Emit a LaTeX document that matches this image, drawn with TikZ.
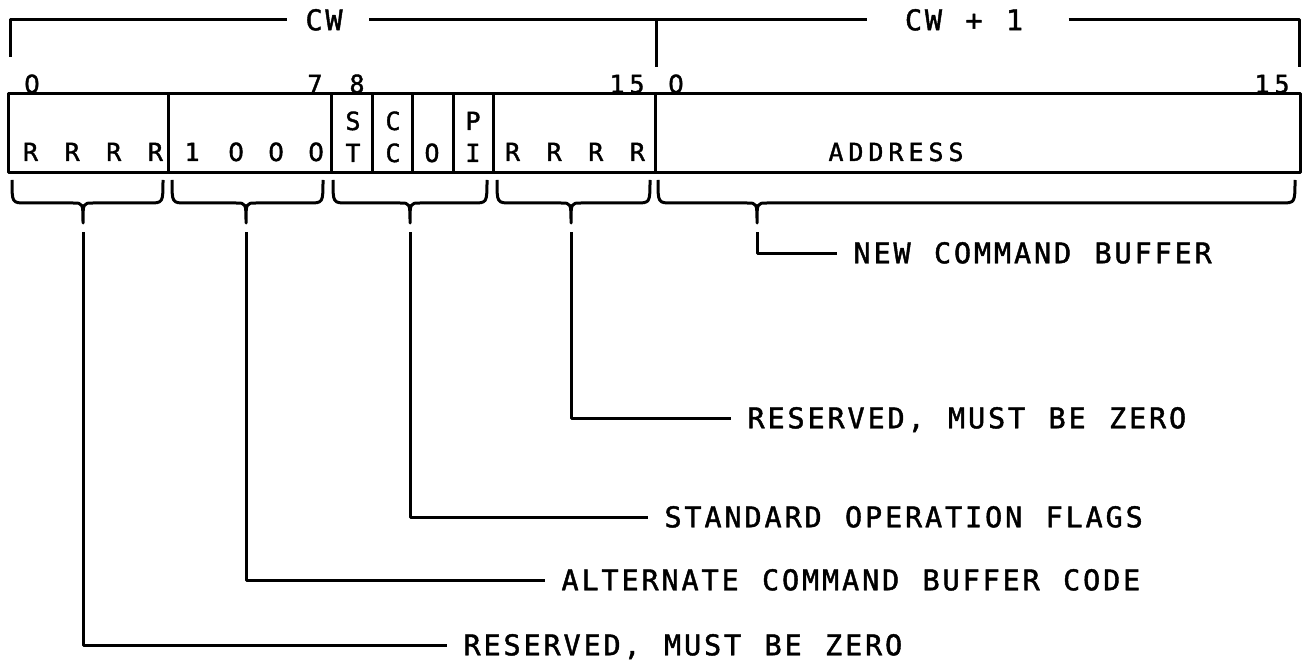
\documentclass[tikz,border=0pt]{standalone}
\usepackage{fontspec}
\newfontfamily\lblfont[LetterSpace=10,WordSpace=1.166,FakeBold=1.5]{DejaVu Sans Mono}
\newfontfamily\boxfont[LetterSpace=19.8,WordSpace=1.329,FakeBold=1.5]{DejaVu Sans Mono}
\newfontfamily\zfont[FakeBold=1.5]{DejaVu Sans}
\newcommand\zdig{\makebox[20pt]{\zfont 0}}
\newcommand\bracedown[4]{%
  \draw (#1,180) .. controls (#1,203) .. (#1+14,203) -- (#3-10,203)
        .. controls (#3,203) .. (#3,223)
        .. controls (#3,203) .. (#3+10,203) -- (#2-14,203)
        .. controls (#2,203) .. (#2,180);
  \coordinate (#4) at (#3,232);}
\begin{document}
\begin{tikzpicture}[x=1pt,y=-1pt,line width=3pt,line join=round,
  lbl/.style={font=\lblfont\fontsize{28.5}{31}\selectfont,inner xsep=0pt,inner ysep=0pt,text height=20.5pt,text depth=0pt},
  leader/.style={lbl,anchor=west,inner xsep=15pt},
  bx/.style={font=\boxfont\fontsize{25}{28}\selectfont,inner sep=0pt,text height=18pt,text depth=0pt},
  bit/.style={font=\boxfont\fontsize{25}{28}\selectfont,inner sep=0pt,anchor=base}]
\useasboundingbox (0,0) rectangle (1306,671);
% top brackets
\node[lbl] (cw) at (324,20) {CW};
\node[lbl] (cwone) at (964,20) {CW + 1};
\coordinate (tl) at (10,57);
\coordinate (tm) at (656,67);
\coordinate (tr) at (1299,67);
\draw (tl) -- (10,20) -- ([xshift=-17pt]cw.west);
\draw ([xshift=25pt]cw.east) -- ([xshift=-36pt]cwone.west);
\draw ([xshift=44pt]cwone.east) -- (1299,20) -- (tr);
\draw (656,20) -- (tm);
% bit numbers
\node[bit] (b0) at (32,93) {\zdig};
\node[bit] (b7) at (315,93) {7};
\node[bit] (b8) at (357,93) {8};
\node[bit] (b15) at (627,93) {15};
\node[bit] (c0) at (676,93) {\zdig};
\node[bit] (c15) at (1272,93) {15};
% register box
\draw (8,94) rectangle (1300,173);
\foreach \x in {168,331,372,412,453,493,655} \draw (\x,94) -- (\x,173);
\node[bx] (rr1) at (93,152) {R R R R};
\node[bx,anchor=west] (code) at (183,152) {1 \zdig\hspace{20pt}\zdig\hspace{20pt}\zdig};
\node[bx] (fs) at (353,121) {S};
\node[bx] (ft) at (353,153) {T};
\node[bx] (fc1) at (393,121) {C};
\node[bx] (fc2) at (393,153) {C};
\node[bx] (fo) at (432,153) {O};
\node[bx] (fp) at (473,121) {P};
\node[bx] (fi) at (473,153) {I};
\node[bx] (rr2) at (575,152) {R R R R};
\node[bx] (addr) at (896,152) {ADDRESS};
% braces
\bracedown{12}{163}{83}{k1}
\bracedown{172}{323}{246}{k2}
\bracedown{333}{487}{410}{k3}
\bracedown{497}{650}{571}{k4}
\bracedown{658}{1295}{757}{k5}
% labels
\node[leader] (ncb) at (837,253) {NEW COMMAND BUFFER};
\node[leader] (rzone) at (731,418) {RESERVED, MUST BE ZERO};
\node[leader] (sof) at (648,517) {STANDARD OPERATION FLAGS};
\node[leader] (acb) at (545,580) {ALTERNATE COMMAND BUFFER CODE};
\node[leader] (rztwo) at (447,645) {RESERVED, MUST BE ZERO};
\draw (k5) |- (ncb.west);
\draw (k4) |- (rzone.west);
\draw (k3) |- (sof.west);
\draw (k2) |- (acb.west);
\draw (k1) |- (rztwo.west);
\end{tikzpicture}
\end{document}
